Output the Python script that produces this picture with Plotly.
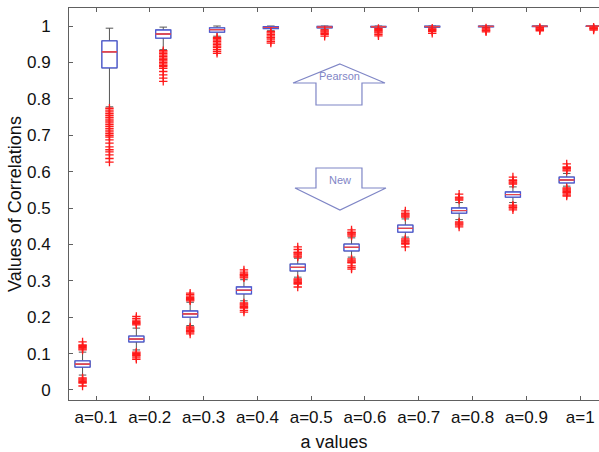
import plotly.graph_objects as go

# ---------------- data ----------------
categories = ["a=0.1", "a=0.2", "a=0.3", "a=0.4", "a=0.5",
              "a=0.6", "a=0.7", "a=0.8", "a=0.9", "a=1"]
positions = [1, 2, 3, 4, 5, 6, 7, 8, 9, 10]

# Pearson correlation box statistics
pearson_q1 = [0.885, 0.967, 0.983, 0.993, 0.995, 0.997, 0.997, 0.998, 0.9985, 0.999]
pearson_med = [0.929, 0.978, 0.990, 0.996, 0.997, 0.998, 0.9985, 0.999, 0.9992, 0.9995]
pearson_q3 = [0.959, 0.989, 0.995, 0.998, 0.999, 0.999, 0.9995, 0.9995, 0.9997, 0.9998]
pearson_lo = [0.778, 0.935, 0.972, 0.987, 0.991, 0.994, 0.995, 0.996, 0.997, 0.998]
pearson_hi = [0.994, 0.997, 1.000, 1.000, 1.000, 1.000, 1.000, 1.000, 1.000, 1.000]
pearson_out = [
    [0.774, 0.769, 0.764, 0.759, 0.754, 0.749, 0.744, 0.739, 0.734, 0.729, 0.724,
     0.719, 0.714, 0.709, 0.704, 0.699, 0.695, 0.687, 0.678, 0.668, 0.660, 0.654,
     0.646, 0.636, 0.626],
    [0.932, 0.928, 0.924, 0.920, 0.916, 0.912, 0.908, 0.904, 0.900, 0.896, 0.892,
     0.889, 0.884, 0.875, 0.866, 0.857, 0.848],
    [0.969, 0.965, 0.961, 0.957, 0.953, 0.949, 0.945, 0.941, 0.935, 0.930, 0.925],
    [0.985, 0.981, 0.977, 0.973, 0.969, 0.967, 0.962, 0.957, 0.953],
    [0.989, 0.986, 0.983, 0.980, 0.977, 0.972],
    [0.993, 0.990, 0.987, 0.984, 0.981, 0.977, 0.973],
    [0.994, 0.991, 0.988, 0.985, 0.980],
    [0.995, 0.992, 0.989, 0.987, 0.984],
    [0.996, 0.994, 0.992, 0.990, 0.987],
    [0.997, 0.995, 0.993, 0.992, 0.989],
]

# New correlation box statistics
new_q1 = [0.063, 0.132, 0.200, 0.264, 0.327, 0.382, 0.434, 0.486, 0.530, 0.569]
new_med = [0.071, 0.140, 0.209, 0.274, 0.337, 0.392, 0.444, 0.493, 0.537, 0.577]
new_q3 = [0.080, 0.148, 0.217, 0.283, 0.346, 0.401, 0.453, 0.500, 0.544, 0.585]
new_lo = [0.041, 0.110, 0.177, 0.245, 0.310, 0.365, 0.420, 0.468, 0.515, 0.560]
new_hi = [0.104, 0.170, 0.241, 0.303, 0.362, 0.418, 0.470, 0.515, 0.558, 0.595]
new_out = [
    [0.110, 0.113, 0.116, 0.119, 0.122, 0.124, 0.132,
     0.033, 0.030, 0.027, 0.024, 0.021, 0.019, 0.011],
    [0.179, 0.182, 0.185, 0.188, 0.192, 0.197, 0.202,
     0.104, 0.101, 0.098, 0.095, 0.093, 0.088, 0.084],
    [0.245, 0.248, 0.251, 0.254, 0.258, 0.262, 0.266,
     0.173, 0.170, 0.167, 0.164, 0.161, 0.159, 0.154],
    [0.308, 0.311, 0.314, 0.317, 0.319, 0.324, 0.330,
     0.239, 0.236, 0.233, 0.230, 0.227, 0.225, 0.219, 0.214],
    [0.365, 0.368, 0.371, 0.374, 0.377, 0.379, 0.386, 0.393,
     0.305, 0.302, 0.299, 0.296, 0.293, 0.291, 0.283],
    [0.423, 0.426, 0.429, 0.432, 0.434, 0.440,
     0.360, 0.357, 0.354, 0.351, 0.349, 0.341, 0.336, 0.332],
    [0.475, 0.478, 0.481, 0.484, 0.486, 0.492,
     0.415, 0.412, 0.409, 0.406, 0.403, 0.401, 0.393],
    [0.522, 0.525, 0.528, 0.530, 0.538,
     0.462, 0.459, 0.456, 0.453, 0.448],
    [0.566, 0.569, 0.572, 0.575, 0.577, 0.585,
     0.508, 0.505, 0.502, 0.500, 0.495],
    [0.602, 0.605, 0.608, 0.611, 0.613, 0.621,
     0.555, 0.552, 0.549, 0.546, 0.543, 0.541, 0.536, 0.533],
]

# ---------------- styling ----------------
BOX_BLUE = "#4a58d6"
WHISK = "#555555"
MED_RED = "#e8464a"
OUT_RED = "#ff1a1a"
ARROW = "#7f86c6"
AXIS = "#606060"
FONT = "Liberation Sans, Arial, Helvetica, sans-serif"
OFFSET = 0.25
BOXW = 0.28

fig = go.Figure()


def add_group(xs, q1, med, q3, lo, hi, outs):
    # whiskers (grey)
    fig.add_trace(go.Box(
        x=xs, q1=q1, median=med, q3=q3, lowerfence=lo, upperfence=hi,
        width=BOXW, whiskerwidth=0.5, line=dict(color=WHISK, width=1),
        fillcolor="rgba(0,0,0,0)", boxpoints=False, hoverinfo="skip",
        showlegend=False))
    # box outline (blue)
    fig.add_trace(go.Box(
        x=xs, q1=q1, median=med, q3=q3, lowerfence=q1, upperfence=q3,
        width=BOXW, whiskerwidth=0, line=dict(color=BOX_BLUE, width=1.3),
        fillcolor="rgba(255,255,255,1)", boxpoints=False, hoverinfo="skip",
        showlegend=False))
    # median (red)
    fig.add_trace(go.Box(
        x=xs, q1=med, median=med, q3=med, lowerfence=med, upperfence=med,
        width=BOXW, whiskerwidth=0, line=dict(color=MED_RED, width=1),
        fillcolor="rgba(0,0,0,0)", boxpoints=False, hoverinfo="skip",
        showlegend=False))
    # outliers
    ox, oy = [], []
    for x, vals in zip(xs, outs):
        ox.extend([x] * len(vals))
        oy.extend(vals)
    fig.add_trace(go.Scatter(
        x=ox, y=oy, mode="markers",
        marker=dict(symbol="cross-thin", size=6,
                    line=dict(color=OUT_RED, width=1.3), color=OUT_RED),
        hoverinfo="skip", showlegend=False))


new_x = [p - OFFSET for p in positions]
pearson_x = [p + OFFSET for p in positions]
add_group(new_x, new_q1, new_med, new_q3, new_lo, new_hi, new_out)
add_group(pearson_x, pearson_q1, pearson_med, pearson_q3, pearson_lo, pearson_hi, pearson_out)

# block-arrow annotations
pearson_arrow = "M 5.535 0.8956 L 6.372 0.8434 L 5.944 0.8434 L 5.944 0.783 L 5.089 0.783 L 5.089 0.8434 L 4.662 0.8434 Z"
new_arrow = "M 5.089 0.6099 L 5.944 0.6099 L 5.944 0.555 L 6.39 0.555 L 5.535 0.4945 L 4.699 0.555 L 5.089 0.555 Z"
fig.add_shape(type="path", path=pearson_arrow, xref="x", yref="y",
              line=dict(color=ARROW, width=1.2), fillcolor="rgba(0,0,0,0)")
fig.add_shape(type="path", path=new_arrow, xref="x", yref="y",
              line=dict(color=ARROW, width=1.2), fillcolor="rgba(0,0,0,0)")
fig.add_annotation(x=5.535, y=0.864, text="Pearson", showarrow=False,
                   font=dict(family=FONT, size=11, color=ARROW))
fig.add_annotation(x=5.535, y=0.577, text="New", showarrow=False,
                   font=dict(family=FONT, size=11, color=ARROW))

fig.update_layout(
    width=599, height=452,
    margin=dict(l=69, r=0, t=8, b=52),
    plot_bgcolor="white", paper_bgcolor="white",
    font=dict(family=FONT, size=17, color="#111111"),
    showlegend=False,
    boxmode="overlay",
)
fig.update_xaxes(
    range=[0.498, 10.35], tickmode="array", tickvals=positions, ticktext=categories,
    showgrid=False, zeroline=False, showline=True, linecolor=AXIS, linewidth=1,
    mirror="ticks", ticks="inside", ticklen=4, tickcolor=AXIS,
    ticklabelstandoff=2,
    title=dict(text="a values", font=dict(size=18), standoff=8),
)
fig.update_yaxes(
    range=[-0.0275, 1.0495], tickmode="array",
    tickvals=[0, 0.1, 0.2, 0.3, 0.4, 0.5, 0.6, 0.7, 0.8, 0.9, 1],
    ticktext=["0", "0.1", "0.2", "0.3", "0.4", "0.5", "0.6", "0.7", "0.8", "0.9", "1"],
    showgrid=False, zeroline=False, showline=True, linecolor=AXIS, linewidth=1,
    mirror=False, ticks="inside", ticklen=4, tickcolor=AXIS,
    ticklabelstandoff=14,
    title=dict(text="Values of Correlations", font=dict(size=18), standoff=0),
)

fig.write_html("out.html")
